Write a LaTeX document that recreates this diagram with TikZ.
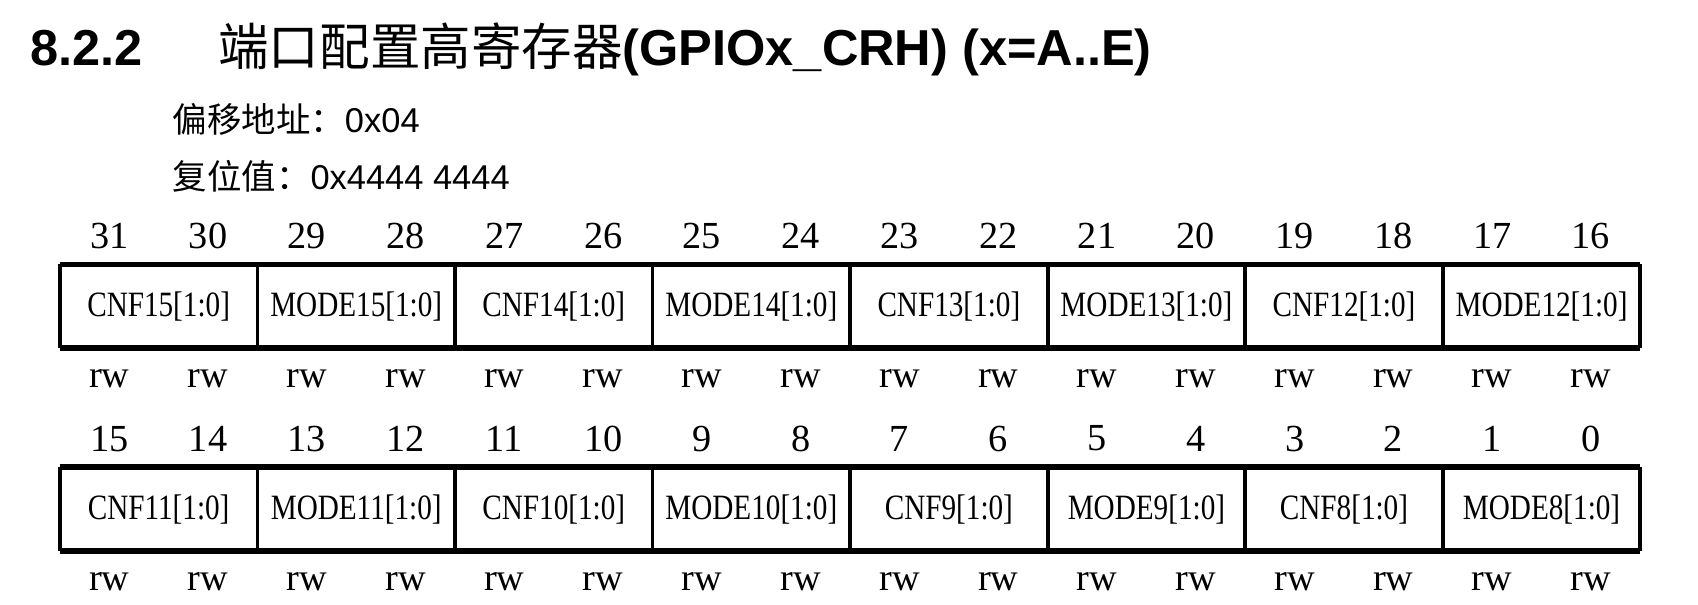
\documentclass[tikz,border=0pt]{standalone}
\usepackage{fontspec}
\setmainfont{Liberation Serif}
\newfontfamily\arial{Liberation Sans}
\newfontfamily\cjk{Noto Sans CJK SC}
\begin{document}
\begin{tikzpicture}[x=0.01cm,y=-0.01cm,
  bitnum/.style={font=\fontsize{10}{12}\selectfont},
  rwlab/.style={font=\fontsize{10}{12}\selectfont},
  cell/.style={font=\fontsize{9.3}{11}\selectfont,xscale=0.82}]
\useasboundingbox (0,0) rectangle (1560,555);
\node[anchor=base west,inner sep=0,font=\arial\bfseries\fontsize{13.2}{16}\selectfont] (num) at (27,60) {8.2.2};
\node[anchor=base west,inner sep=0,font=\fontsize{13.2}{16}\selectfont] (title) at (200,60) {{\cjk 端口配置高寄存器}{\arial\bfseries(GPIOx\_CRH) (x=A..E)}};
\node[anchor=base west,inner sep=0,font=\fontsize{9}{11}\selectfont] (off) at (158,122) {{\cjk 偏移地址：}{\arial 0x04}};
\node[anchor=base west,inner sep=0,font=\fontsize{9}{11}\selectfont] (rst) at (158,174) {{\cjk 复位值：}{\arial 0x4444 4444}};
\def\W{90.75}
\foreach \r/\top/\labs in {0/243/{CNF15[1:0],MODE15[1:0],CNF14[1:0],MODE14[1:0],CNF13[1:0],MODE13[1:0],CNF12[1:0],MODE12[1:0]},
                          1/429/{CNF11[1:0],MODE11[1:0],CNF10[1:0],MODE10[1:0],CNF9[1:0],MODE9[1:0],CNF8[1:0],MODE8[1:0]}}{
  \foreach \i in {0,...,15}{
    \pgfmathtruncatemacro\b{31-16*\r-\i}
    \node[bitnum] (b\b) at ({55+(\i+0.5)*\W},\top-26) {\b};
    \node[rwlab] (rw\b) at ({55+(\i+0.5)*\W},\top+105) {rw};
  }
  \draw[line width=1.5pt] (55,\top) -- (1507,\top) (55,\top+77) -- (1507,\top+77);
  \foreach \k in {0,...,8}{
    \draw[line width=1pt] ({55+2*\k*\W},\top) -- ({55+2*\k*\W},\top+77);
  }
  \foreach \l [count=\k from 0] in \labs{
    \node[cell] (c\r\k) at ({55+(2*\k+1)*\W},\top+39) {\l};
  }
}
\end{tikzpicture}
\end{document}
